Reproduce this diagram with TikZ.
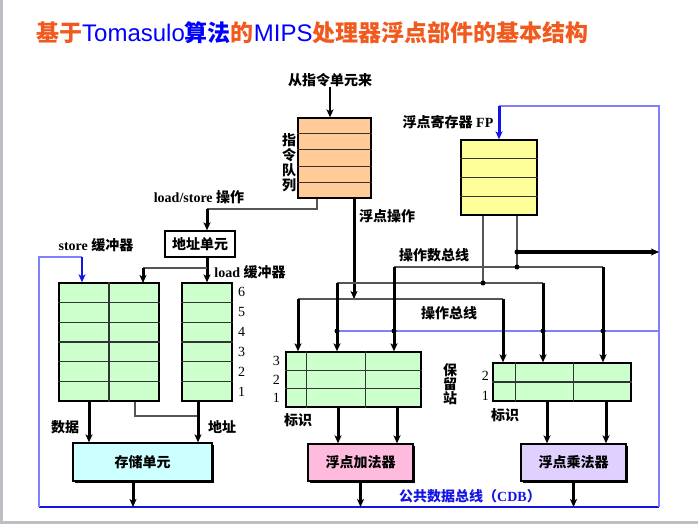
\documentclass[tikz,border=0pt]{standalone}
\usepackage{fontspec}
\setmainfont{Liberation Serif}
\newfontfamily\zhfont{Noto Sans CJK SC}
\newfontfamily\latfont{Liberation Sans}
\usetikzlibrary{arrows.meta,positioning,calc,shadows}
\usepackage{xcolor}
\definecolor{fuqueue}{RGB}{255,204,153}
\definecolor{fureg}{RGB}{255,255,153}
\definecolor{fubuf}{RGB}{204,255,204}
\definecolor{fumem}{RGB}{204,255,255}
\definecolor{fuadd}{RGB}{255,187,221}
\definecolor{fumul}{RGB}{224,208,255}
\definecolor{fucdb}{RGB}{128,128,255}
\definecolor{fucdbdark}{RGB}{20,20,230}
\definecolor{futitle}{RGB}{240,90,30}
\definecolor{fuwire}{RGB}{85,85,85}
\definecolor{fuframe}{RGB}{190,190,196}
\newcommand{\zh}[1]{{\zhfont #1}}

\begin{document}
\begin{tikzpicture}[
  x=1pt, y=-1pt,
  font=\fontsize{14}{16}\selectfont\bfseries,
  reg/.style={draw, line width=1.3pt, inner sep=0pt},
  unit/.style={draw, line width=1.3pt, inner sep=0pt, minimum width=105pt,
    minimum height=37pt, drop shadow={shadow xshift=1.5pt, shadow yshift=-1.5pt,
    opacity=1, fill=black}},
  lbl/.style={inner sep=0pt},
  vlbl/.style={inner sep=0pt, align=center, font=\fontsize{14}{16}\selectfont\bfseries},
  num/.style={inner sep=0pt, font=\fontsize{14}{16}\selectfont},
  row/.style={black!80, line width=1.2pt},
  wire/.style={fuwire, line width=1.3pt},
  arr/.style={-{Stealth[length=8pt,width=7pt,inset=2pt]}, line width=3pt},
  cdb/.style={fucdb, line width=1.5pt}
]
\useasboundingbox (0,0) rectangle (698,524);
\fill[fuframe] (0,0) rectangle (3,524);
\fill[fuframe] (0,521) rectangle (698,524);

\node[lbl, anchor=west] (title) at (36,33) {\fontsize{23}{26}\selectfont\bfseries
  \zh{\color{futitle}基于}{\latfont\mdseries\fontsize{24}{26}\selectfont\color{blue}Tomasulo}\zh{\color{blue}算法}\zh{\color{futitle}的}{\latfont\mdseries\fontsize{24}{26}\selectfont\color{blue}MIPS}\zh{\color{futitle}处理器浮点部件的基本结构}};

\node[reg, fill=fuqueue, minimum width=73pt, minimum height=80pt] (iq) at (334.5,158) {};
\foreach \k in {1,...,4}
  \draw[row] ($(iq.north west)!\k/5!(iq.south west)$) -- ($(iq.north east)!\k/5!(iq.south east)$);
\node[reg, fill=fureg, minimum width=76pt, minimum height=75pt] (fpr) at (499,177.5) {};
\foreach \k in {1,...,3}
  \draw[row] ($(fpr.north west)!\k/4!(fpr.south west)$) -- ($(fpr.north east)!\k/4!(fpr.south east)$);

\node[reg, minimum width=70pt, minimum height=26pt] (au) at (200,244) {\zh{地址单元}};
\node[reg, fill=fubuf, minimum width=100pt, minimum height=118pt] (sb) at (109,342) {};
\node[reg, fill=fubuf, minimum width=50pt, minimum height=118pt] (lb) at (207,342) {};
\foreach \k in {1,...,5} {
  \draw[row] ($(sb.north west)!\k/6!(sb.south west)$) -- ($(sb.north east)!\k/6!(sb.south east)$);
  \draw[row] ($(lb.north west)!\k/6!(lb.south west)$) -- ($(lb.north east)!\k/6!(lb.south east)$);
}
\draw[row] (sb.north) -- (sb.south);
\foreach \k in {1,...,6}
  \node[num] (lbn\k) at ($(lb.south east)!{(\k-0.5)/6}!(lb.north east)+(9,0)$) {\k};

\node[unit, fill=fumem, minimum width=139pt, minimum height=38pt] (mem) at (142.5,462) {\zh{存储单元}};

\node[reg, fill=fubuf, minimum width=135pt, minimum height=55pt] (ars) at (353.5,379.5) {};
\foreach \k in {1,2}
  \draw[row] ($(ars.north west)!\k/3!(ars.south west)$) -- ($(ars.north east)!\k/3!(ars.south east)$);
\draw[row] ([xshift=21pt]ars.north west) -- ([xshift=21pt]ars.south west);
\draw[row] ([xshift=80pt]ars.north west) -- ([xshift=80pt]ars.south west);
\foreach \k in {1,2,3}
  \node[num] (arsn\k) at ($(ars.south west)!{(\k-0.5)/3}!(ars.north west)+(-9,0)$) {\k};

\node[reg, fill=fubuf, minimum width=138pt, minimum height=38pt] (mrs) at (562,382) {};
\draw[row] (mrs.west) -- (mrs.east);
\draw[row] ([xshift=23pt]mrs.north west) -- ([xshift=23pt]mrs.south west);
\draw[row] ([xshift=81pt]mrs.north west) -- ([xshift=81pt]mrs.south west);
\foreach \k in {1,2}
  \node[num] (mrsn\k) at ($(mrs.south west)!{(\k-0.5)/2}!(mrs.north west)+(-7,4)$) {\k};

\node[unit, fill=fuadd] (add) at (360.5,462.5) {\zh{浮点加法器}};
\node[unit, fill=fumul] (mul) at (573.5,462.5) {\zh{浮点乘法器}};

\node[lbl] (src) at (330,80) {\zh{从指令单元来}};
\node[vlbl] (iqlbl) at (289,163) {\zh{指}\\[-1pt]\zh{令}\\[-1pt]\zh{队}\\[-1pt]\zh{列}};
\node[lbl] (fplbl) at (448,122) {\zh{浮点寄存器} FP};
\node[lbl] (lslbl) at (199,197) {load/store \zh{操作}};
\node[lbl] (sblbl) at (96,245) {store \zh{缓冲器}};
\node[lbl] (lblbl) at (250,272) {load \zh{缓冲器}};
\node[lbl] (folbl) at (387,216) {\zh{浮点操作}};
\node[lbl] (odlbl) at (434,255) {\zh{操作数总线}};
\node[lbl] (oplbl) at (449,313) {\zh{操作总线}};
\node[vlbl] (rslbl) at (450,384) {\zh{保}\\[-2pt]\zh{留}\\[-2pt]\zh{站}};
\node[lbl] (datlbl) at (65,427) {\zh{数据}};
\node[lbl] (adrlbl) at (222,427) {\zh{地址}};
\node[lbl] (atag) at (298,420) {\zh{标识}};
\node[lbl] (mtag) at (505,415) {\zh{标识}};
\node[lbl, text=fucdbdark] (cdblbl) at (470,496) {\zh{公共数据总线（}CDB\zh{）}};

\coordinate (cdbL) at (39,507);
\coordinate (cdbR) at (659,507);
\coordinate (cdbT) at (659,106);
\coordinate (sbfb) at (82,257);
\coordinate (rsfb) at (337,331);
\coordinate (lsbend) at (207,209);
\coordinate (sbsplit) at (207,268);
\coordinate (sbin) at (143,283);
\coordinate (adj) at (198,416);
\coordinate (opL) at (298,299);
\coordinate (opR) at (503,299);
\coordinate (srcA) at (483,283);
\coordinate (srcB) at (517,267);
\coordinate (fpout) at (517,252);
\coordinate (aL) at (337,283);
\coordinate (aR) at (543,283);
\coordinate (bL) at (394,267);
\coordinate (bR) at (603,267);

\draw[cdb, fucdbdark] (cdbL) -- (cdbR);
\draw[cdb] (cdbR) -- (cdbT) -- (fpr.north |- cdbT);
\draw[cdb] (cdbL) |- (sbfb);
\draw[cdb] (rsfb) -- (rsfb -| cdbR);
\draw[arr, fucdbdark] (fpr.north |- cdbT) -- (fpr.north);
\draw[arr, fucdbdark, line width=2pt, -{Stealth[length=8pt,width=7pt,inset=2pt]}] (sbfb) -- (sbfb |- sb.north);

\draw[arr, line width=2pt] (src) -- (src |- iq.north);
\draw[wire] ([xshift=-17.5pt]iq.south) |- (lsbend);
\draw[arr] (lsbend) -- (lsbend |- au.north);
\draw[arr] (lsbend |- au.south) -- (lsbend |- lb.north);
\draw[wire] (sbsplit) -- (sbsplit -| sbin);
\draw[arr] (sbsplit -| sbin) -- (sbin);

\draw[arr] ([xshift=-20pt]sb.south) -- ([xshift=-20pt]sb.south |- mem.north);
\draw[wire] ([xshift=26pt]sb.south) |- (adj);
\draw[arr] (adj |- lb.south) -- (adj |- mem.north);
\draw[arr] ([xshift=-9.5pt]mem.south) -- ([xshift=-9.5pt]mem.south |- cdbL);

\draw[arr] ([xshift=19.5pt]iq.south) -- ([xshift=19.5pt]iq.south |- opL);
\draw[wire] (opL) -- (opR);
\draw[arr] (opL) -- (opL |- ars.north);
\draw[arr] (opR) -- (opR |- mrs.north);

\draw[wire] (srcA |- fpr.south) -- (srcA);
\draw[wire] (srcB |- fpr.south) -- (srcB);
\draw[wire] (aL) -- (aR);
\draw[wire] (bL) -- (bR);
\draw[arr] (aL) -- (aL |- ars.north);
\draw[arr] (bL) -- (bL |- ars.north);
\draw[arr] (aR) -- (aR |- mrs.north);
\draw[arr] (bR) -- (bR |- mrs.north);
\draw[arr, line width=4pt] (fpout) -- (fpout -| cdbR);
\foreach \c in {srcA,srcB,fpout}
  \fill (\c) circle (2.5pt);
\foreach \c in {aL,bL,aR,bR}
  \fill (\c |- rsfb) circle (2.5pt);

\draw[arr] ([xshift=-15.5pt]ars.south) -- ([xshift=-15.5pt]ars.south |- add.north);
\draw[arr] ([xshift=43.5pt]ars.south) -- ([xshift=43.5pt]ars.south |- add.north);
\draw[arr] ([xshift=-15pt]mrs.south) -- ([xshift=-15pt]mrs.south |- mul.north);
\draw[arr] ([xshift=44pt]mrs.south) -- ([xshift=44pt]mrs.south |- mul.north);
\draw[arr] (add.south) -- (add.south |- cdbL);
\draw[arr] (mul.south) -- (mul.south |- cdbL);
\end{tikzpicture}
\end{document}
